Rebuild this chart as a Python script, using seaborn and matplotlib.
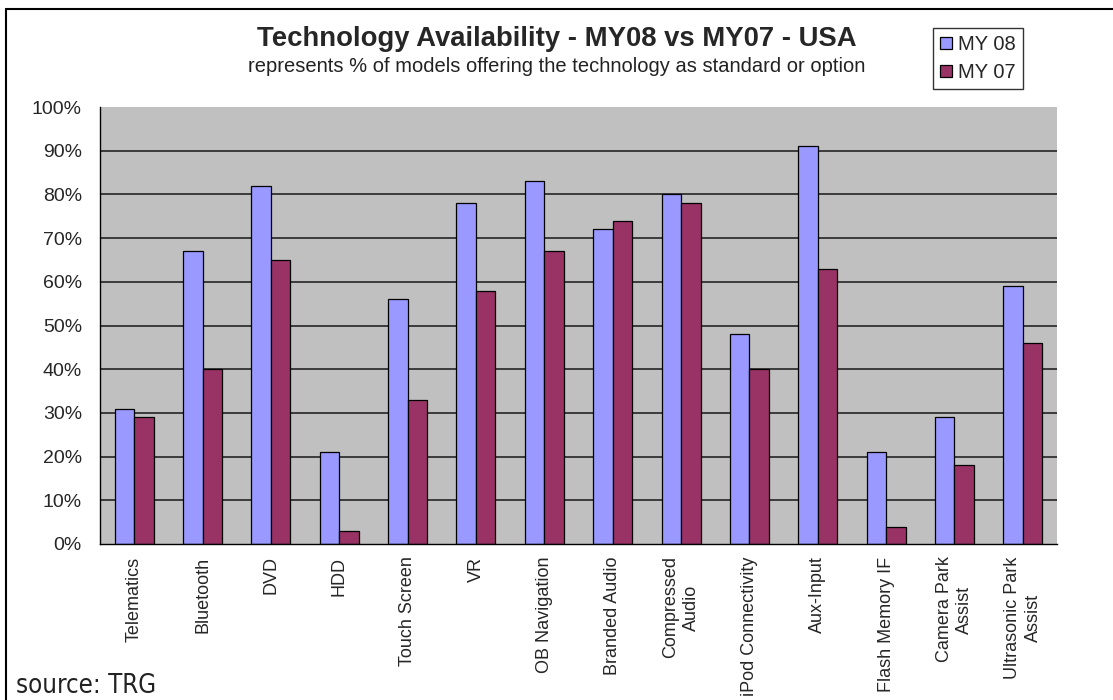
import pandas as pd
import matplotlib.pyplot as plt
import seaborn as sns
from matplotlib.lines import Line2D
from matplotlib.ticker import PercentFormatter, MultipleLocator

# Dados (% de modelos que oferecem a tecnologia)
tecnologias = ['Telematics', 'Bluetooth', 'DVD', 'HDD', 'Touch Screen', 'VR',
               'OB Navigation', 'Branded Audio', 'Compressed\nAudio',
               'iPod Connectivity', 'Aux-Input', 'Flash Memory IF',
               'Camera Park\nAssist', 'Ultrasonic Park\nAssist']
my08 = [31, 67, 82, 21, 56, 78, 83, 72, 80, 48, 91, 21, 29, 59]
my07 = [29, 40, 65, 3, 33, 58, 67, 74, 78, 40, 63, 4, 18, 46]
series = ['MY 08', 'MY 07']
cores = ['#9999FF', '#993366']

df = pd.DataFrame({
    'Tecnologia': tecnologias * 2,
    'Modelo': [series[0]] * len(my08) + [series[1]] * len(my07),
    'Valor': [v / 100 for v in my08 + my07],
})

sns.set_style('white')
plt.rcParams['font.family'] = ['Liberation Sans', 'DejaVu Sans']

fig = plt.figure(figsize=(11.13, 7.0), dpi=100)
ax = fig.add_axes([100 / 1113, 1 - 544 / 700, 957 / 1113, 437 / 700])

sns.barplot(data=df, x='Tecnologia', y='Valor', hue='Modelo', hue_order=series,
            palette=cores, width=0.57, gap=0, edgecolor='black', linewidth=0.9,
            saturation=1, ax=ax)

ax.set_facecolor('#C0C0C0')
ax.set_ylim(0, 1)
ax.set_xlim(-0.5, len(tecnologias) - 0.5)
ax.yaxis.set_major_locator(MultipleLocator(0.1))
ax.yaxis.set_major_formatter(PercentFormatter(1.0, decimals=0))

# linhas de grade (sem a linha no 100%)
for y in [i / 10 for i in range(1, 10)]:
    ax.axhline(y, color='#303030', linewidth=1.3, zorder=0.5)

for s in ['top', 'right']:
    ax.spines[s].set_visible(False)
for s in ['left', 'bottom']:
    ax.spines[s].set_color('black')
    ax.spines[s].set_linewidth(1.0)

# ticks do eixo x nas divisas entre categorias
ax.set_xticks(range(len(tecnologias)))
ax.set_xticklabels(tecnologias, rotation=90, fontsize=13, multialignment='center',
                   linespacing=1.3)
ax.set_xticks([i - 0.5 for i in range(len(tecnologias) + 1)], minor=True)
ax.tick_params(axis='x', which='major', length=0, pad=9)
ax.tick_params(axis='x', which='minor', length=5, width=1, color='black', direction='out')
ax.tick_params(axis='y', length=4, width=1, color='black', direction='out', pad=9, labelsize=14)
ax.set_xlabel('')
ax.set_ylabel('')

# legenda
handles, labels = ax.get_legend_handles_labels()
ax.get_legend().remove()
leg = fig.legend(handles, labels, loc='upper left', bbox_to_anchor=(933 / 1113, 1 - 28 / 700),
                 frameon=True, fancybox=False, edgecolor='black', fontsize=14.5,
                 handlelength=0.6, handleheight=0.6, handletextpad=0.3,
                 borderpad=0.35, labelspacing=0.45, borderaxespad=0)
leg.get_frame().set_linewidth(1.0)

# títulos
fig.text(0.5, 1 - 39 / 700, 'Technology Availability - MY08 vs MY07 - USA',
         ha='center', va='center', fontsize=19.8, fontweight='bold')
fig.text(0.5, 1 - 67 / 700, 'represents % of models offering the technology as standard or option',
         ha='center', va='center', fontsize=14.5, color='#222222')

fig.text(16 / 1113, 1 - 686 / 700, 'source: TRG', ha='left', va='center', fontsize=18.5,
         family=['DejaVu Sans'], fontstretch='condensed', color='#222222')

# moldura do gráfico
fig.add_artist(Line2D([6 / 1113, 1], [1 - 9 / 700, 1 - 9 / 700], transform=fig.transFigure,
                      color='black', linewidth=1.5))
fig.add_artist(Line2D([6 / 1113, 6 / 1113], [0, 1 - 9 / 700], transform=fig.transFigure,
                      color='black', linewidth=1.5))

fig.savefig('out.png', dpi=100)
